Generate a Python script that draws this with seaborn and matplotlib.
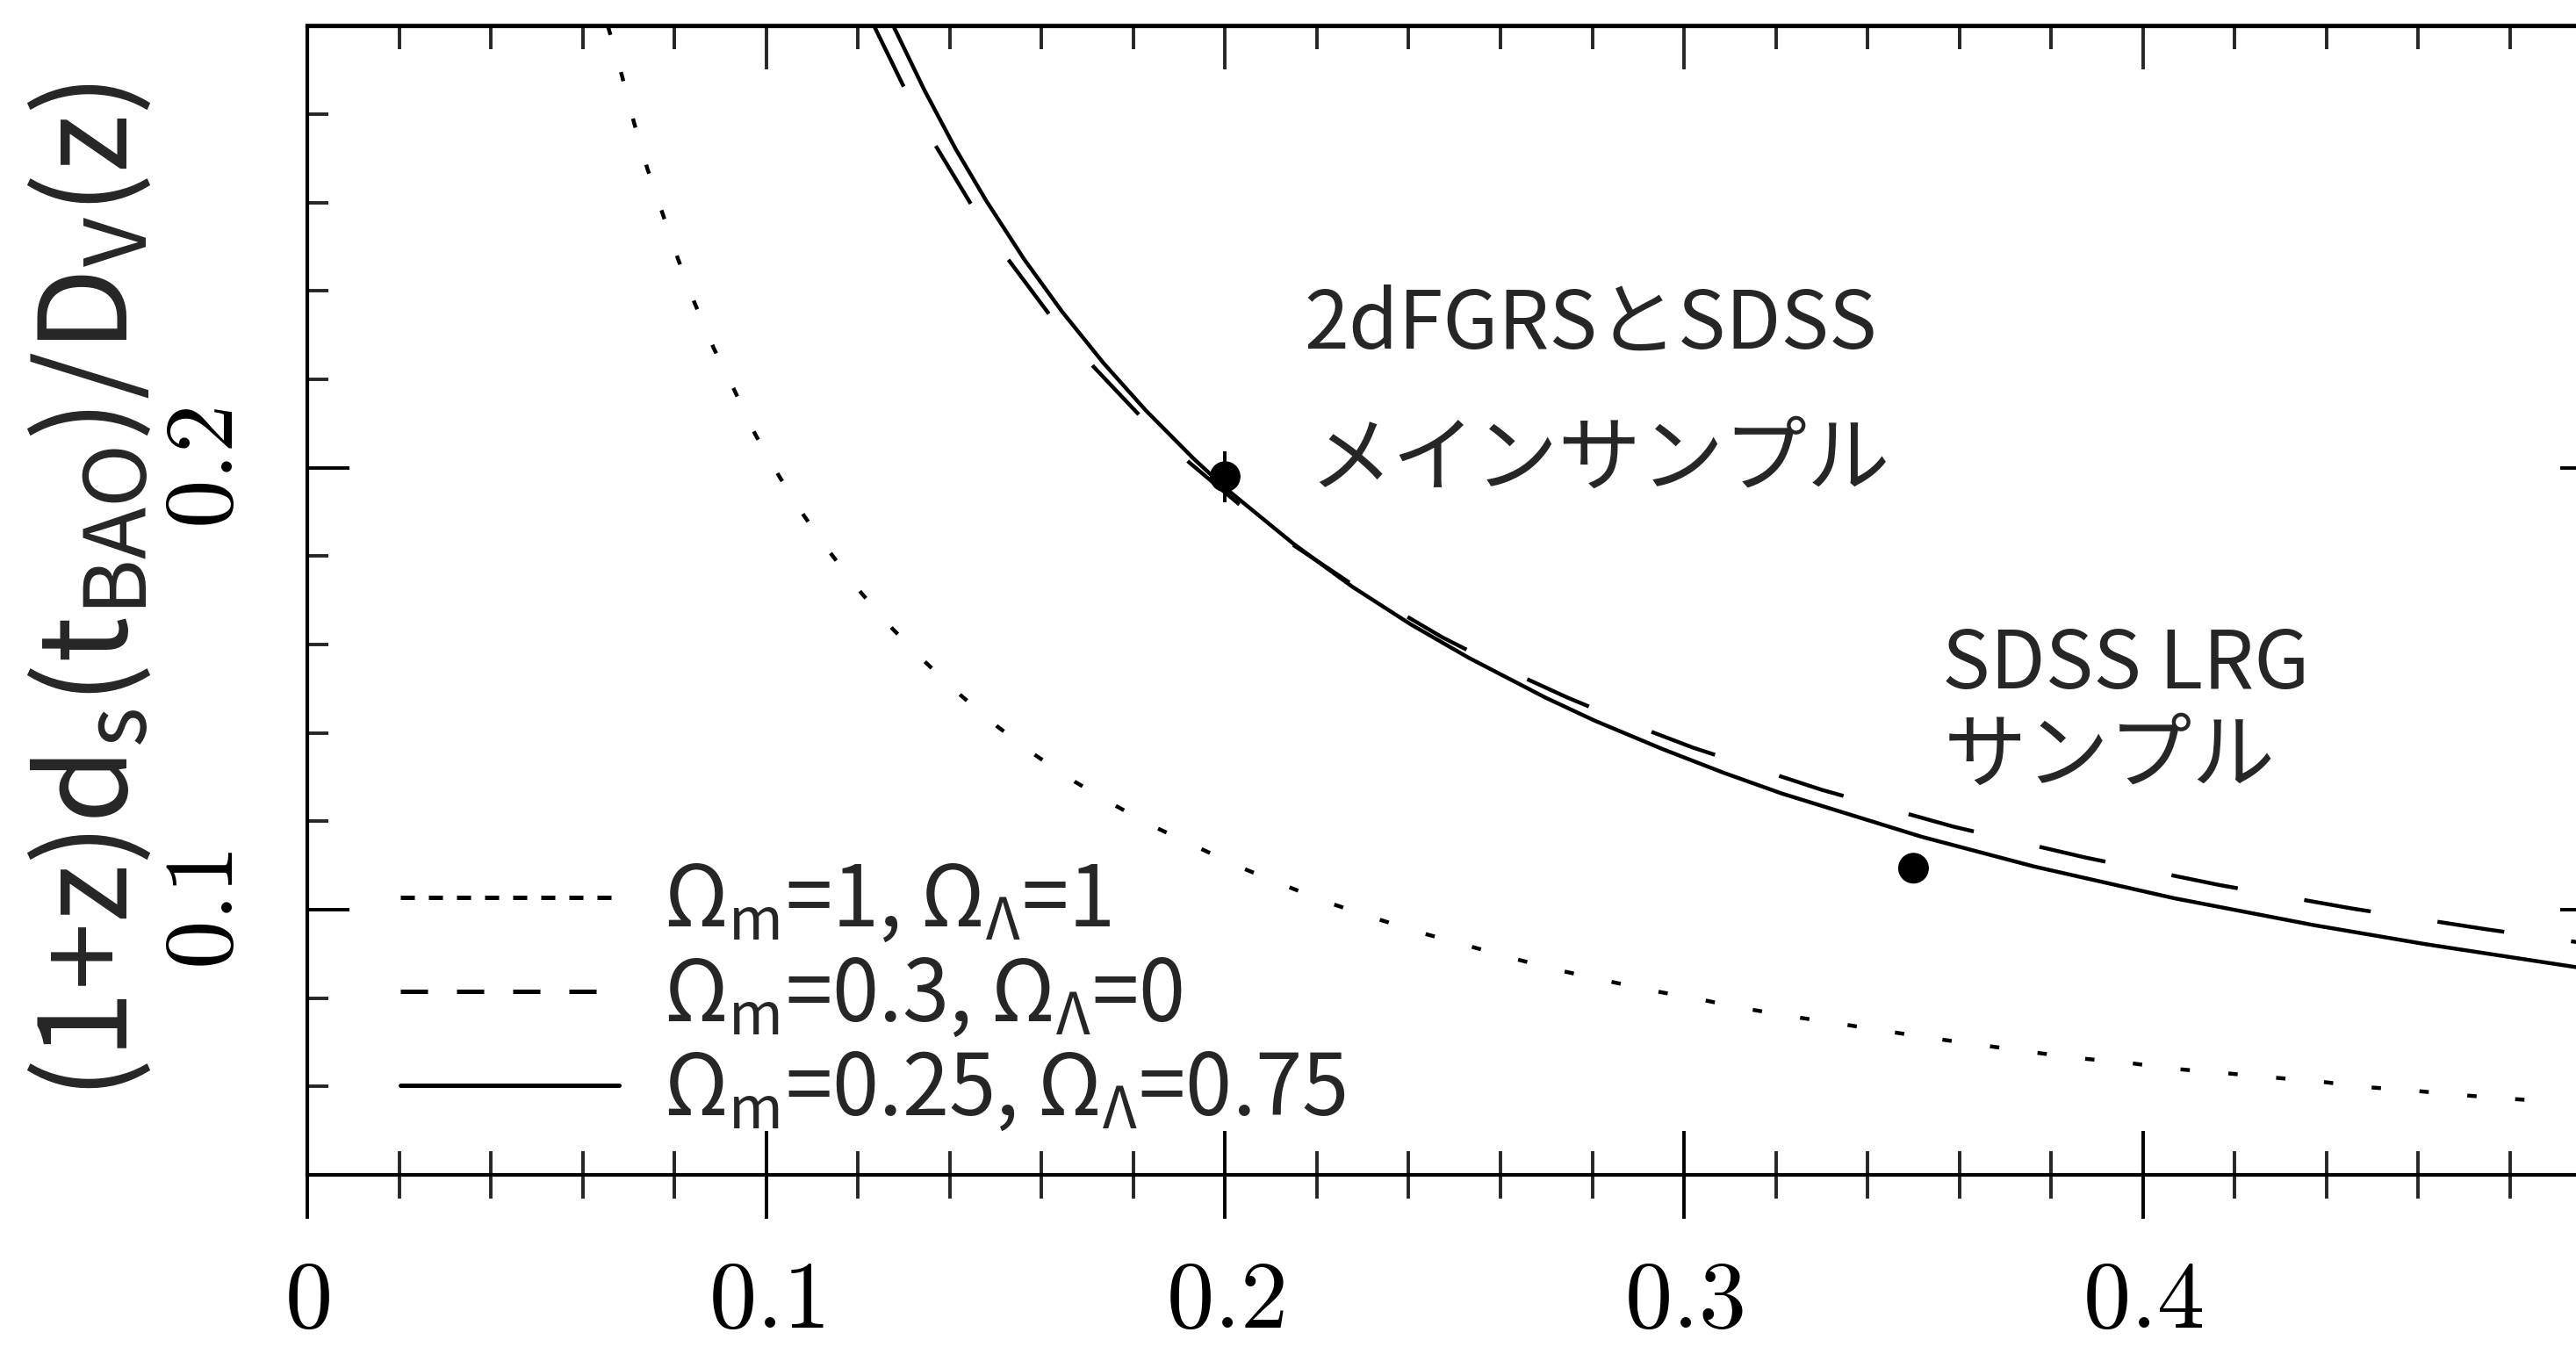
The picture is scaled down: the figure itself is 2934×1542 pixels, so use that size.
import matplotlib
matplotlib.use("Agg")
import matplotlib.pyplot as plt
import seaborn as sns
import pandas as pd
from matplotlib.lines import Line2D
from matplotlib.ticker import MultipleLocator, NullFormatter

# (1+z) d_s(t_BAO) / D_V(z) for three cosmologies, sampled along each curve
z_om1 = [0.0655, 0.0686, 0.0712, 0.0741, 0.0774, 0.0808, 0.0844, 0.0885, 0.0930,
         0.0976, 0.1027, 0.1082, 0.1143, 0.1207, 0.1274, 0.1347, 0.1423, 0.1502,
         0.1586, 0.1672, 0.1760, 0.1851, 0.1947, 0.2038, 0.2137, 0.2234, 0.2332,
         0.2430, 0.2531, 0.2631, 0.2732, 0.2832, 0.2936, 0.3040, 0.3141, 0.3244,
         0.3345, 0.3448, 0.3549, 0.3653, 0.3756, 0.3860, 0.3964, 0.4068, 0.4171,
         0.4275, 0.4379, 0.4482, 0.4586, 0.4687, 0.4791, 0.4895]
v_om1 = [0.3000, 0.2886, 0.2781, 0.2677, 0.2576, 0.2472, 0.2373, 0.2272, 0.2177,
         0.2076, 0.1983, 0.1892, 0.1803, 0.1717, 0.1637, 0.1560, 0.1486, 0.1416,
         0.1350, 0.1290, 0.1236, 0.1185, 0.1138, 0.1094, 0.1052, 0.1013, 0.0979,
         0.0947, 0.0918, 0.0889, 0.0862, 0.0839, 0.0816, 0.0796, 0.0775, 0.0757,
         0.0741, 0.0724, 0.0708, 0.0693, 0.0678, 0.0664, 0.0654, 0.0640, 0.0631,
         0.0621, 0.0612, 0.0599, 0.0591, 0.0581, 0.0573, 0.0565]

z_open = [0.1235, 0.1298, 0.1368, 0.1446, 0.1527, 0.1617, 0.1714, 0.1816, 0.1923,
          0.2030, 0.2149, 0.2277, 0.2474, 0.2605, 0.2744, 0.2880, 0.3019, 0.3301,
          0.3587, 0.3875, 0.4166, 0.4460, 0.4753, 0.4944]
v_open = [0.3000, 0.2866, 0.2731, 0.2597, 0.2472, 0.2347, 0.2228, 0.2116, 0.2011,
          0.1918, 0.1825, 0.1736, 0.1616, 0.1547, 0.1481, 0.1422, 0.1367, 0.1271,
          0.1188, 0.1118, 0.1056, 0.1002, 0.0955, 0.0927]

z_lcdm = [0.1277, 0.1345, 0.1412, 0.1479, 0.1562, 0.1645, 0.1735, 0.1827, 0.1932,
          0.2003, 0.2149, 0.2277, 0.2404, 0.2531, 0.2698, 0.2805, 0.2952, 0.3086,
          0.3213, 0.3518, 0.3762, 0.4068, 0.4373, 0.4616, 0.4944]
v_lcdm = [0.3000, 0.2854, 0.2723, 0.2605, 0.2472, 0.2353, 0.2237, 0.2130, 0.2020,
          0.1952, 0.1828, 0.1731, 0.1646, 0.1570, 0.1480, 0.1428, 0.1364, 0.1310,
          0.1263, 0.1165, 0.1098, 0.1026, 0.0965, 0.0922, 0.0870]

# BAO measurements
z_obs = [0.20, 0.35]
v_obs = [0.1980, 0.1094]
err_obs = [0.0058, 0.0033]

legend_labels = [r"$\Omega_\mathrm{m}$=1, $\Omega_\Lambda$=1",
                 r"$\Omega_\mathrm{m}$=0.3, $\Omega_\Lambda$=0",
                 r"$\Omega_\mathrm{m}$=0.25, $\Omega_\Lambda$=0.75"]
note_main = ["2dFGRSとSDSS", "メインサンプル"]
note_lrg = ["SDSS LRG", "サンプル"]
y_title = r"(1+z)d$_\mathrm{s}$(t$_\mathrm{BAO}$)/D$_\mathrm{V}$(z)"

x_major = [0.0, 0.1, 0.2, 0.3, 0.4, 0.5]
x_major_labels = ["0", "0.1", "0.2", "0.3", "0.4", ""]
y_major = [0.1, 0.2]
y_major_labels = ["0.1", "0.2"]

DPI = 200
W, H = 2934, 1542

sns.set_style("white")
plt.rcParams["font.family"] = ["Noto Sans CJK JP", "DejaVu Sans"]
plt.rcParams["mathtext.fontset"] = "custom"
plt.rcParams["mathtext.rm"] = "Noto Sans CJK JP"
plt.rcParams["mathtext.it"] = "Noto Sans CJK JP"
plt.rcParams["mathtext.bf"] = "Noto Sans CJK JP:bold"
plt.rcParams["mathtext.sf"] = "Noto Sans CJK JP"

fig = plt.figure(figsize=(W / DPI, H / DPI), dpi=DPI)
fig.patch.set_facecolor("white")
# plot frame: x from 0 to 0.5 (right edge sits just past the canvas)
ax = fig.add_axes([350 / W, 204 / H, 2613.5 / W, 1308.5 / H])
ax.set_facecolor("white")

LW = 1.6
curve_styles = [
    (z_om1, v_om1, (0, (2.4, 9.9))),
    (z_open, v_open, (0, (17.3, 17.3))),
    (z_lcdm, v_lcdm, "-"),
]
for zs, vs, ls in curve_styles:
    df = pd.DataFrame({"z": zs, "v": vs})
    sns.lineplot(data=df, x="z", y="v", ax=ax, color="black", linewidth=LW,
                 linestyle=ls, errorbar=None, sort=False, zorder=3)

ax.errorbar(z_obs, v_obs, yerr=err_obs, fmt="none", ecolor="black",
            elinewidth=1.4, capsize=0, zorder=4)
sns.scatterplot(x=z_obs, y=v_obs, ax=ax, color="black", s=12.6 ** 2,
                edgecolor="none", linewidth=0, zorder=5, legend=False)

ax.set_xlim(0, 0.5)
ax.set_ylim(0.04, 0.30)
ax.set_xlabel("")

# tick labels in a Computer Modern look
ax.set_xticks(x_major)
ax.set_xticklabels([f"${t}$" if t else "" for t in x_major_labels],
                   math_fontfamily="cm", fontsize=39)
ax.xaxis.set_minor_locator(MultipleLocator(0.02))
ax.set_yticks(y_major)
ax.set_yticklabels([f"${t}$" for t in y_major_labels], math_fontfamily="cm",
                   fontsize=40, rotation=90, va="center")
ax.yaxis.set_minor_locator(MultipleLocator(0.02))

ax.tick_params(axis="x", which="major", direction="inout", length=36, width=1.4,
               bottom=True, top=False, pad=13.5, colors="black")
ax.tick_params(axis="x", which="minor", direction="inout", length=19.5, width=1.4,
               bottom=True, top=False)
ax.tick_params(axis="y", which="major", direction="in", length=17.3, width=1.4,
               left=True, right=True, pad=21.5, colors="black")
ax.tick_params(axis="y", which="minor", direction="in", length=8.7, width=1.4,
               left=True, right=True)

for side in ["left", "right", "top", "bottom"]:
    ax.spines[side].set_visible(True)
    ax.spines[side].set_color("black")
    ax.spines[side].set_linewidth(1.5)

# upper axis: ticks point inward only
top = ax.secondary_xaxis("top")
top.set_xticks(x_major)
top.xaxis.set_minor_locator(MultipleLocator(0.02))
top.xaxis.set_major_formatter(NullFormatter())
top.tick_params(which="major", direction="in", length=18, width=1.4)
top.tick_params(which="minor", direction="in", length=9.7, width=1.4)
top.spines["top"].set_linewidth(1.5)

ax.set_ylabel(y_title, fontsize=50, va="center")
ax.yaxis.set_label_coords((105 - 350) / 2613.5, 0.508)

handles = [
    Line2D([], [], color="black", lw=1.8, linestyle=(0, (3.2, 3.2))),
    Line2D([], [], color="black", lw=1.8, linestyle=(0, (6.2, 6.6))),
    Line2D([], [], color="black", lw=1.8, linestyle="-"),
]
ax.legend(handles, legend_labels, loc="upper left", bbox_to_anchor=(0.0406, 0.2754),
          frameon=False, fontsize=34.5, handlelength=2.6, handletextpad=0.53,
          labelspacing=0.08, borderpad=0, borderaxespad=0)

ax.text(0.4343, 0.7191, note_main[0], transform=ax.transAxes, fontsize=33,
        ha="left", va="baseline")
ax.text(0.4365, 0.6007, note_main[1], transform=ax.transAxes, fontsize=34,
        ha="left", va="baseline")
ax.text(0.7125, 0.4234, note_lrg[0], transform=ax.transAxes, fontsize=33,
        ha="left", va="baseline")
ax.text(0.7130, 0.3424, note_lrg[1], transform=ax.transAxes, fontsize=34,
        ha="left", va="baseline")

fig.savefig("out.png", dpi=DPI, facecolor="white")
